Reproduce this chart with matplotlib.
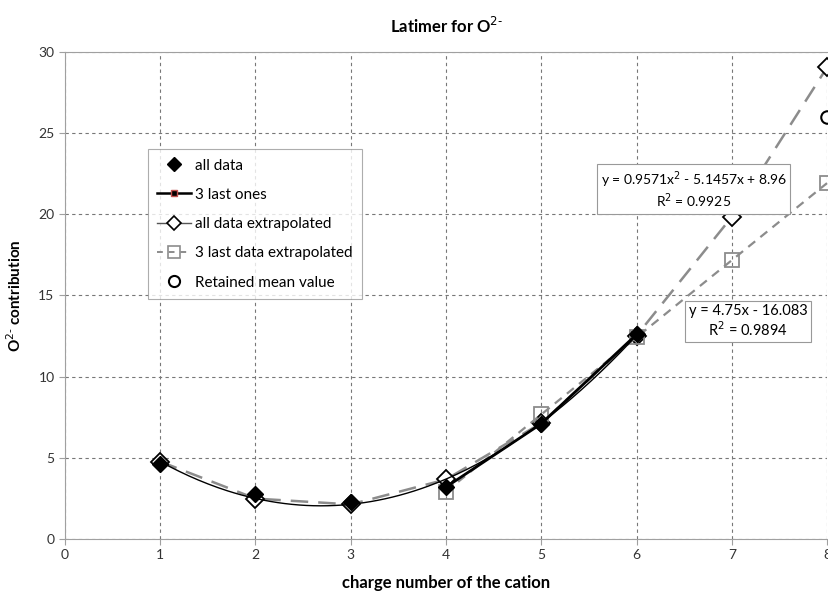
import numpy as np
import matplotlib
matplotlib.use('Agg')
import matplotlib.pyplot as plt
from matplotlib.lines import Line2D

plt.rcParams['font.family'] = ['Lato', 'DejaVu Sans']

# measured values
charge = [1, 2, 3, 4, 5, 6]
all_data = [4.6, 2.8, 2.3, 3.2, 7.1, 12.6]
last_x = [4, 5, 6]
last_y = [3.2, 7.1, 12.6]

# extrapolated values
extra_x = [1, 2, 3, 4, 5, 6, 7, 8]
extra_all = [4.77, 2.49, 2.13, 3.67, 7.14, 12.52, 19.84, 29.05]
extra_last_x = [4, 5, 6, 7, 8]
extra_last = [2.92, 7.67, 12.42, 17.17, 21.92]
mean_x = [8]
mean_y = [26.0]

poly = [0.9571, -5.1457, 8.96]
eq_poly = "y = 0.9571x$^2$ - 5.1457x + 8.96\nR$^2$ = 0.9925"
eq_lin = "y = 4.75x - 16.083\nR$^2$ = 0.9894"

fig = plt.figure(figsize=(8.29, 5.94), dpi=100)
ax = fig.add_axes([0.0784, 0.0926, 0.9192, 0.8199])

# polynomial trendline on all data
xs = np.linspace(1, 6, 200)
ax.plot(xs, np.polyval(poly, xs), color='black', lw=1.0, zorder=3)

ax.plot(extra_x, extra_all, color='#8c8c8c', lw=1.8, dashes=(7, 4), zorder=2,
        marker='D', ms=9.5, mfc='white', mec='black', mew=1.3, clip_on=False)
ax.plot(extra_last_x, extra_last, color='#8c8c8c', lw=1.6, dashes=(4, 3), zorder=2,
        marker='s', ms=10, mfc='none', mec='#8c8c8c', mew=1.3, clip_on=False)
ax.plot(last_x, last_y, color='black', lw=2.0, zorder=4,
        marker='s', ms=4, mfc='black', mec='#c0504d')
ax.plot(charge, all_data, ls='none', marker='D', ms=8, color='black', zorder=5)
ax.plot(mean_x, mean_y, ls='none', marker='o', ms=9, mfc='white', mec='black',
        mew=1.5, zorder=5, clip_on=False)

ax.set_xlim(0, 8)
ax.set_ylim(0, 30)
ax.set_xticks(range(0, 9))
ax.set_yticks(range(0, 31, 5))
ax.grid(True, color='#777777', ls=(0, (3, 3)), lw=0.8)
ax.set_axisbelow(True)
for s in ['left', 'bottom', 'top']:
    ax.spines[s].set_color('#a0a0a0')
ax.spines['right'].set_visible(False)
ax.tick_params(colors='#a0a0a0', labelcolor='#333333', labelsize=10, length=4)

ax.set_title("Latimer for O$^{2\u2010}$", fontsize=12, fontweight='bold', pad=14)
ax.set_xlabel("charge number of the cation", fontsize=12, fontweight='bold', labelpad=10)
ax.set_ylabel("O$^{2\u2010}$ contribution", fontsize=11, fontweight='bold', labelpad=10)

box = dict(boxstyle='square,pad=0.25', fc='white', ec='#999999', lw=0.8)
ax.text(6.6, 21.5, eq_poly, ha='center', va='center', fontsize=10,
        linespacing=1.1, bbox=box, zorder=6)
ax.text(7.17, 13.4, eq_lin, ha='center', va='center', fontsize=10.5,
        linespacing=1.1, bbox=box, zorder=6)

handles = [
    Line2D([], [], ls='none', marker='D', ms=7, color='black'),
    Line2D([], [], color='black', lw=1.8, marker='s', ms=4, mfc='black', mec='#c0504d'),
    Line2D([], [], color='#555555', lw=1.0, marker='D', ms=7, mfc='white', mec='black', mew=1.2),
    Line2D([], [], color='#8c8c8c', lw=1.4, dashes=(3, 3), marker='s', ms=8,
           mfc='none', mec='#8c8c8c', mew=1.2),
    Line2D([], [], ls='none', marker='o', ms=8, mfc='white', mec='black', mew=1.5),
]
labels = ['all data', '3 last ones', 'all data extrapolated',
          '3 last data extrapolated', 'Retained mean value']
leg = ax.legend(handles, labels, loc='upper left', bbox_to_anchor=(0.109, 0.80),
                fontsize=11, frameon=True, fancybox=False, handlelength=2.2,
                handletextpad=0.3, labelspacing=1.0, borderpad=0.6,
                borderaxespad=0)
leg.get_frame().set_edgecolor('#999999')
leg.get_frame().set_linewidth(0.8)

plt.savefig('out.png', dpi=100)
